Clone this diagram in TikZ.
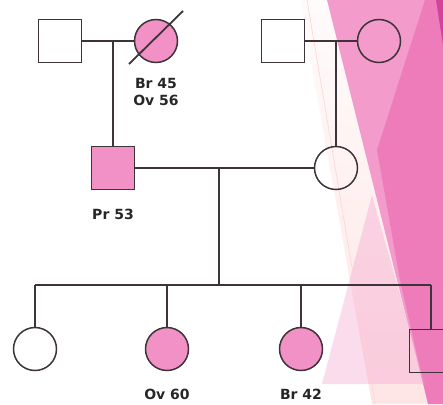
\documentclass[tikz,border=0pt]{standalone}
\usepackage{fontspec}
\setmainfont{DejaVu Sans}
\definecolor{aff}{HTML}{F291C6}
\definecolor{bgpink}{HTML}{F39BCB}
\definecolor{bgmid}{HTML}{EE7CBB}
\definecolor{bgdark}{HTML}{D2449A}
\definecolor{pedline}{HTML}{3C3438}
\tikzset{
	male/.style = {draw = pedline, line width = 1.5pt, minimum size = 43pt, inner sep = 0pt},
	female/.style = {male, circle},
	affected/.style = {fill = aff},
	tag/.style = {font = \bfseries\fontsize{14}{16.5}\selectfont, align = center, text = black!85}
}
\begin{document}
\begin{tikzpicture}[x = 1pt, y = -1pt]
\useasboundingbox (0,0) rectangle (443,404);
% slide decoration behind the chart
\shade[top color = pink!6, bottom color = pink!40] (300,0) -- (327,0) -- (428,404) -- (372,404) -- cycle;
\fill[bgpink] (327,0) -- (443,0) -- (443,404) -- (428,404) -- cycle;
\fill[bgmid] (425,0) -- (443,0) -- (443,404) -- (428,404) -- (400,280) -- (377,150) -- cycle;
\fill[bgdark] (436,0) -- (443,0) -- (443,45) -- cycle;
\fill[bgpink, opacity = 0.35] (322,384) -- (372,195) -- (425,384) -- cycle;
\draw[pink!70, line width = 0.6pt] (307,0) -- (375,404);
% grandparents
\node[male] (gfA) at (60,41) {};
\node[female, affected] (gmA) at (156,41) {};
\node[male] (gfB) at (283,41) {};
\node[female] (gmB) at (379,41) {};
\draw[pedline, line width = 1.8pt] (gmA) ++(-27,23) -- ++(54,-53);
% parents
\node[male, affected] (father) at (113,168) {};
\node[female] (mother) at (336,168) {};
% children
\node[female] (kidA) at (35,349) {};
\node[female, affected] (kidB) at (167,349) {};
\node[female, affected] (kidC) at (301,349) {};
\node[male] (kidD) at (431,351) {};
% labels
\node[tag] (tagGmA) at (156,92) {Br 45\\Ov 56};
\node[tag] (tagFather) at (113,214) {Pr 53};
\node[tag] (tagKidB) at (167,394) {Ov 60};
\node[tag] (tagKidC) at (301,394) {Br 42};
% lines of descent
\begin{scope}[draw = pedline, line width = 1.5pt]
\draw (gfA) -- (gmA);
\draw (father |- gmA) -- (father);
\draw (gfB) -- (gmB);
\draw (mother |- gmB) -- (mother);
\draw (father) -- (mother);
\coordinate (drop) at (219,168);
\coordinate (sib) at (219,285);
\draw (drop) -- (sib);
\draw (kidA |- sib) -- (kidD |- sib);
\foreach \k in {kidA, kidB, kidC, kidD}
{
	\draw (\k |- sib) -- (\k);
}
\end{scope}
\end{tikzpicture}
\end{document}
